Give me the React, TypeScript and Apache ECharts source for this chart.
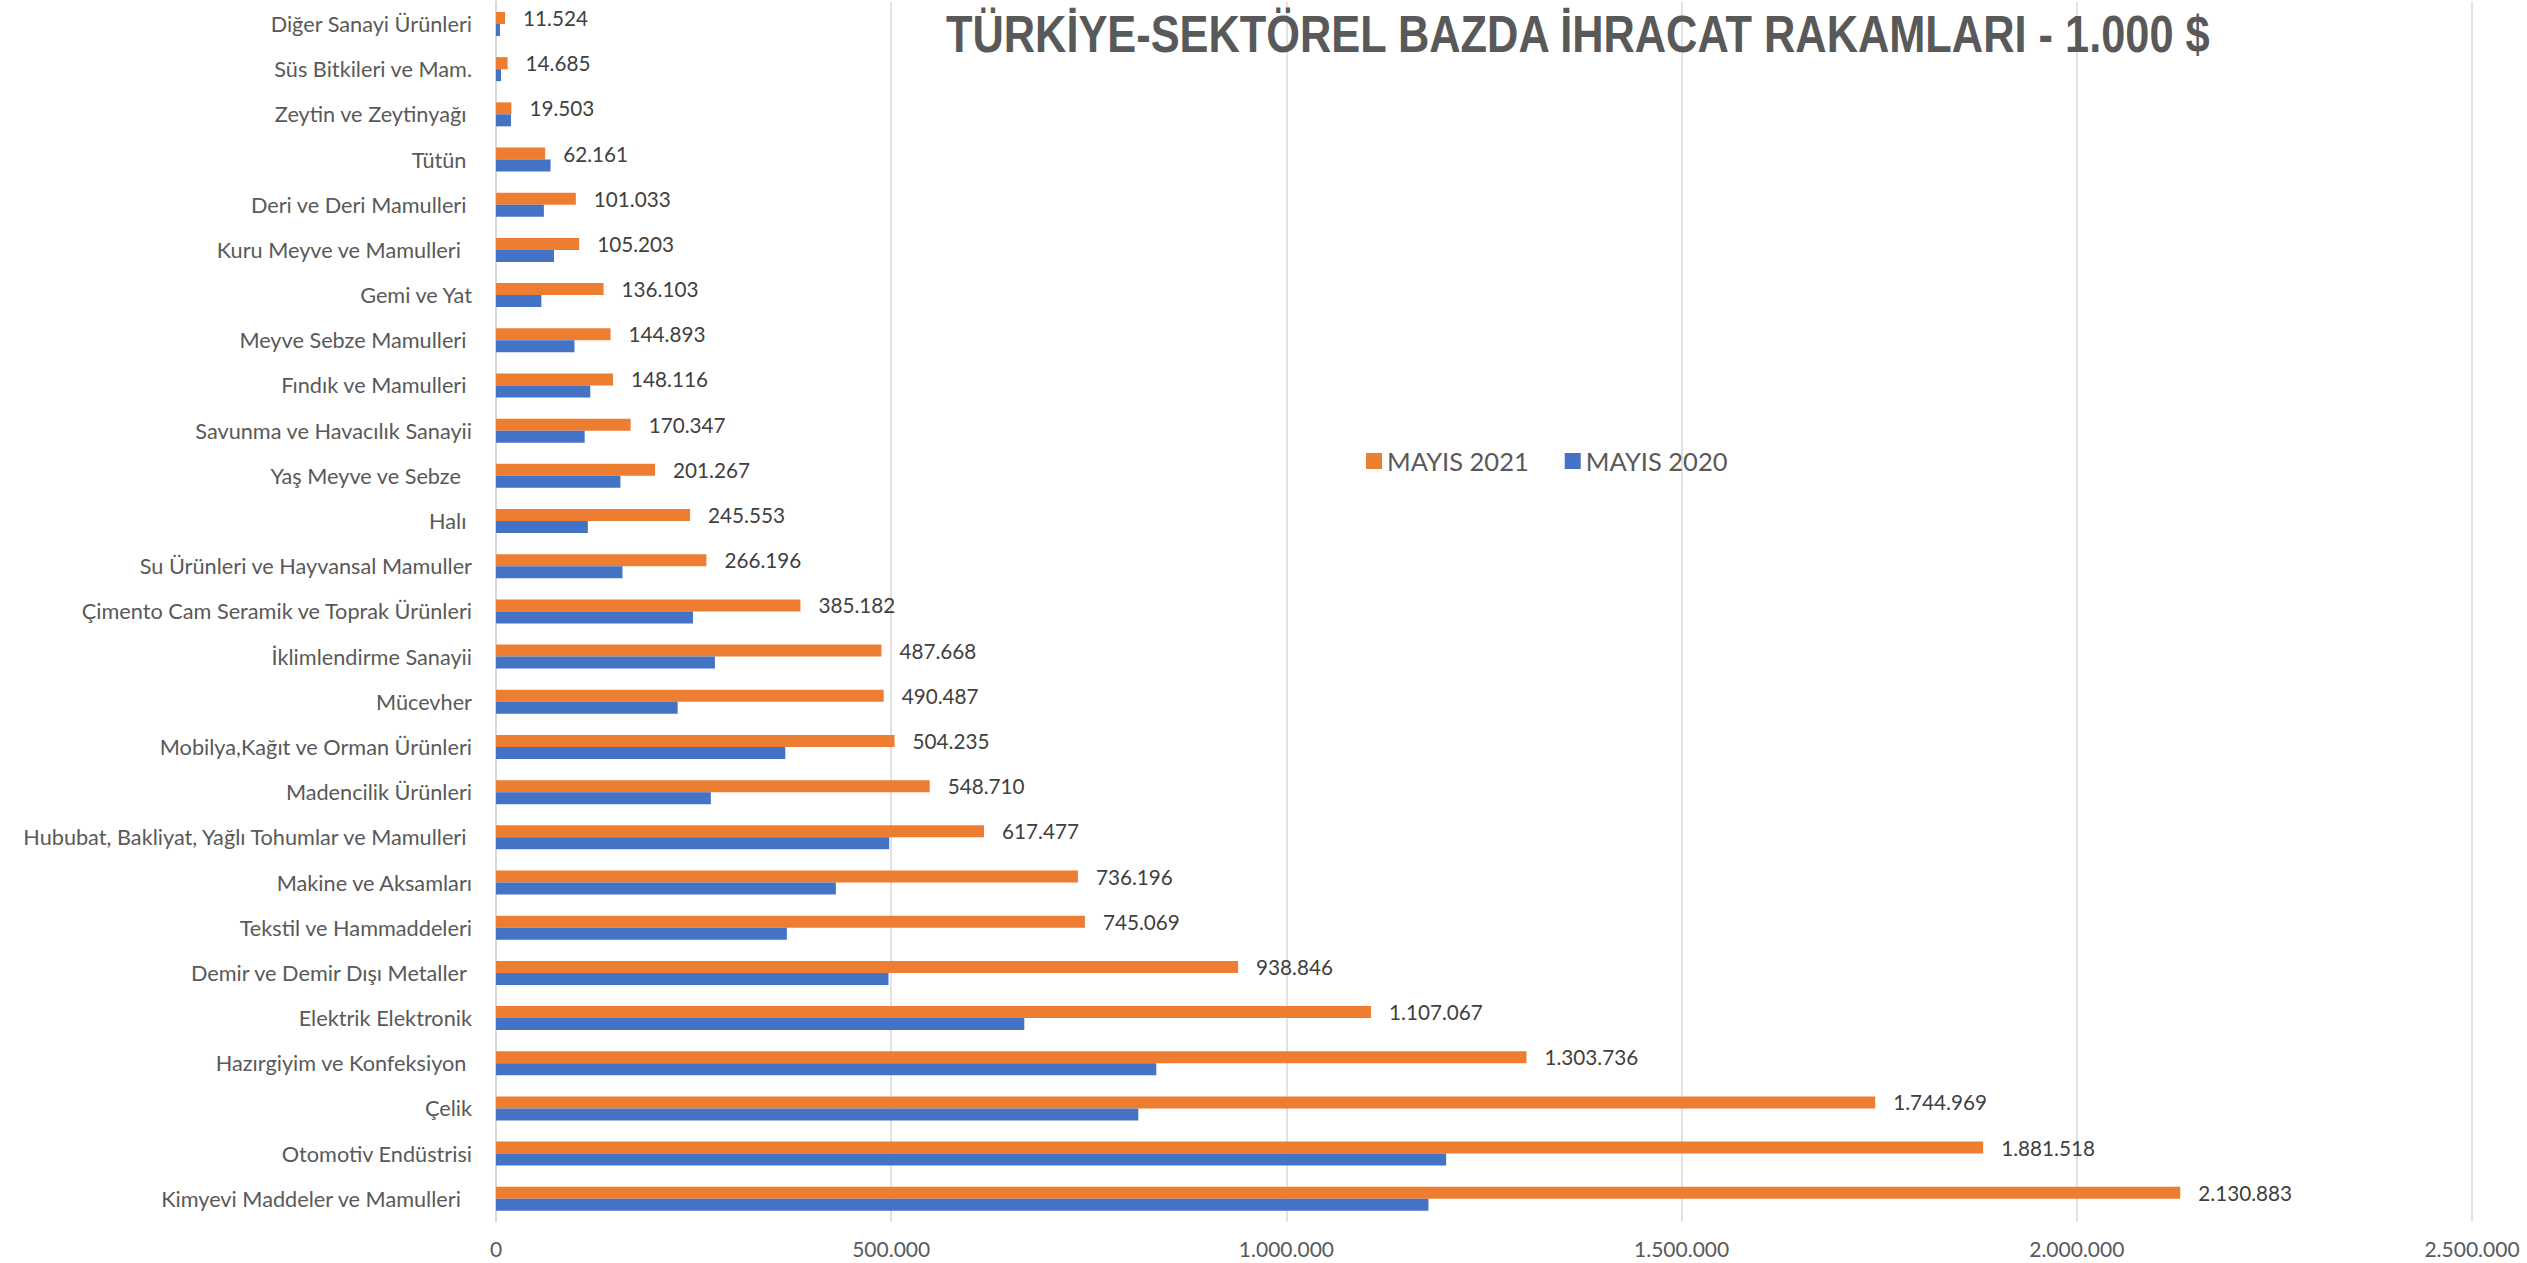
import React, { useEffect, useRef } from "react";
import * as echarts from "echarts";

const categories: string[] = [
  "Diğer Sanayi Ürünleri",
  "Süs Bitkileri ve Mam.",
  "Zeytin ve Zeytinyağı ",
  "Tütün ",
  "Deri ve Deri Mamulleri ",
  "Kuru Meyve ve Mamulleri  ",
  "Gemi ve Yat",
  "Meyve Sebze Mamulleri ",
  "Fındık ve Mamulleri ",
  "Savunma ve Havacılık Sanayii",
  "Yaş Meyve ve Sebze  ",
  "Halı ",
  "Su Ürünleri ve Hayvansal Mamuller",
  "Çimento Cam Seramik ve Toprak Ürünleri",
  "İklimlendirme Sanayii",
  "Mücevher",
  "Mobilya,Kağıt ve Orman Ürünleri",
  "Madencilik Ürünleri",
  "Hububat, Bakliyat, Yağlı Tohumlar ve Mamulleri ",
  "Makine ve Aksamları",
  "Tekstil ve Hammaddeleri",
  "Demir ve Demir Dışı Metaller ",
  "Elektrik Elektronik",
  "Hazırgiyim ve Konfeksiyon ",
  "Çelik",
  "Otomotiv Endüstrisi",
  "Kimyevi Maddeler ve Mamulleri  ",
];

const mayis2021: number[] = [
  11524, 14685, 19503, 62161, 101033, 105203, 136103, 144893, 148116, 170347,
  201267, 245553, 266196, 385182, 487668, 490487, 504235, 548710, 617477,
  736196, 745069, 938846, 1107067, 1303736, 1744969, 1881518, 2130883,
];

const mayis2020: number[] = [
  5000, 6300, 19000, 69000, 60600, 73400, 57400, 99300, 119300, 112200,
  157400, 116200, 160000, 249200, 277000, 229800, 366000, 271800, 497500,
  430000, 368000, 496600, 668400, 835400, 812600, 1202100, 1179700,
];

const seriesNames: string[] = ["MAYIS 2021", "MAYIS 2020"];
const titleText = "TÜRKİYE-SEKTÖREL BAZDA İHRACAT RAKAMLARI - 1.000 $";

const fmt = (v: number) =>
  String(Math.round(v)).replace(/\B(?=(\d{3})+(?!\d))/g, ".");

export default function App() {
  const ref = useRef<HTMLDivElement>(null);
  useEffect(() => {
    if (!ref.current) return;
    const chart = echarts.init(ref.current, undefined, { renderer: "svg" });
    const font = "Lato";
    chart.setOption({
      animation: false,
      backgroundColor: "#ffffff",
      graphic: [
        {
          type: "text",
          x: 946,
          y: 34,
          scaleX: 0.834,
          style: {
            text: titleText,
            fontFamily: "Liberation Sans",
            fontWeight: "bold",
            fontSize: 52,
            fill: "#595959",
            textVerticalAlign: "middle",
            textAlign: "left",
          },
          z: 100,
        },
      ],
      legend: {
        data: seriesNames,
        left: 1361,
        top: 443,
        orient: "horizontal",
        icon: "rect",
        itemWidth: 16,
        itemHeight: 16,
        itemGap: 36,
        textStyle: {
          fontFamily: font,
          fontSize: 25.5,
          color: "#595959",
          lineHeight: 26,
        },
      },
      grid: { left: 496, right: 55, top: 1.4, bottom: 41.6 },
      xAxis: {
        type: "value",
        min: 0,
        max: 2500000,
        interval: 500000,
        axisLine: { show: false },
        axisTick: { show: false },
        splitLine: { show: true, lineStyle: { color: "#D9D9D9", width: 1.5 } },
        axisLabel: {
          fontFamily: font,
          fontSize: 21,
          color: "#595959",
          margin: 17,
          formatter: (v: number) => fmt(v),
        },
      },
      yAxis: {
        type: "category",
        inverse: true,
        data: categories,
        axisLine: { show: true, lineStyle: { color: "#D9D9D9", width: 2 } },
        axisTick: { show: false },
        axisLabel: {
          fontFamily: font,
          fontSize: 21.7,
          color: "#595959",
          margin: 24,
        },
      },
      series: [
        {
          name: seriesNames[0],
          type: "bar",
          data: mayis2021,
          barWidth: 12,
          barGap: "0%",
          itemStyle: { color: "#ED7D31" },
          label: {
            show: true,
            position: "right",
            distance: 18,
            fontFamily: font,
            fontSize: 20.7,
            color: "#404040",
            formatter: (p: any) => fmt(p.value),
          },
        },
        {
          name: seriesNames[1],
          type: "bar",
          data: mayis2020,
          barWidth: 12,
          barGap: "0%",
          itemStyle: { color: "#4472C4" },
        },
      ],
    });
    return () => chart.dispose();
  }, []);
  return (
    <div
      ref={ref}
      style={{ position: "fixed", left: 0, top: 0, width: 2527, height: 1263 }}
    />
  );
}
